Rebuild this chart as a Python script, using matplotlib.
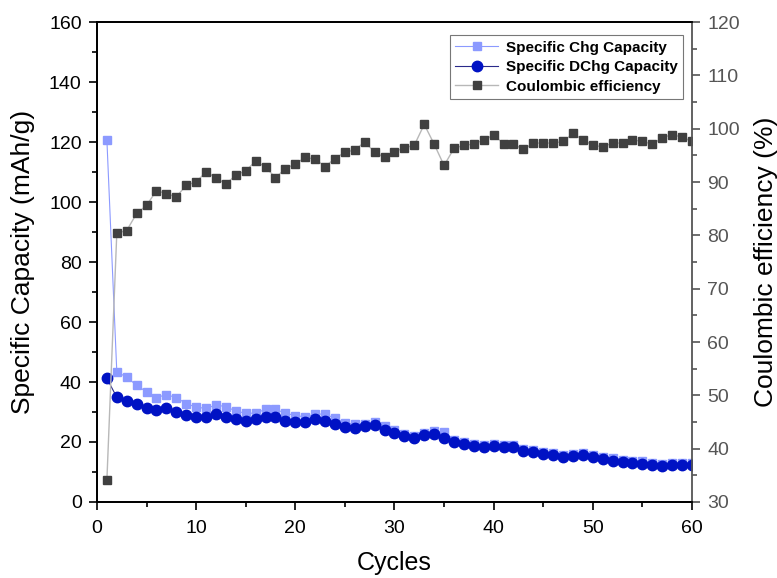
import matplotlib

matplotlib.use("Agg")
import matplotlib.pyplot as plt
import numpy as np

plt.rcParams["font.family"] = ["Liberation Sans", "DejaVu Sans"]

cycles = np.arange(1, 61)

chg_capacity = [
    120.7, 43.4, 41.6, 38.9, 36.7, 34.8, 35.8, 34.8, 32.8, 31.6,
    31.2, 32.3, 31.8, 30.3, 29.6, 29.6, 30.9, 30.9, 29.6, 28.8,
    28.4, 29.3, 29.3, 27.9, 26.4, 26.0, 26.0, 26.6, 25.3, 24.0,
    22.7, 22.1, 22.9, 23.8, 23.2, 20.7, 19.9, 19.4, 18.9, 19.4,
    19.1, 18.9, 17.8, 17.3, 16.8, 16.3, 15.8, 16.0, 16.3, 15.8,
    15.1, 14.5, 14.0, 13.8, 13.5, 13.0, 12.6, 12.9, 13.1, 12.9,
]
dchg_capacity = [
    41.2, 34.9, 33.7, 32.7, 31.2, 30.7, 31.4, 30.1, 29.0, 28.2,
    28.4, 29.2, 28.4, 27.6, 27.1, 27.8, 28.4, 28.2, 27.1, 26.7,
    26.7, 27.6, 27.1, 25.9, 25.1, 24.7, 25.3, 25.6, 24.0, 22.9,
    22.0, 21.4, 22.2, 22.7, 21.4, 20.0, 19.2, 18.7, 18.2, 18.7,
    18.4, 18.2, 17.1, 16.6, 16.1, 15.6, 15.1, 15.3, 15.6, 15.1,
    14.4, 13.8, 13.3, 13.1, 12.8, 12.3, 11.9, 12.2, 12.4, 12.2,
]
coulombic_eff = [
    34.1, 80.4, 80.9, 84.1, 85.6, 88.4, 87.8, 87.2, 89.4, 90.0,
    91.9, 90.8, 89.6, 91.3, 92.1, 93.9, 92.8, 90.8, 92.5, 93.4,
    94.6, 94.3, 92.9, 94.4, 95.6, 96.0, 97.5, 95.6, 94.6, 95.7,
    96.4, 96.9, 100.8, 97.1, 93.1, 96.3, 96.9, 97.1, 97.9, 98.8,
    97.2, 97.1, 96.1, 97.3, 97.3, 97.3, 97.6, 99.1, 97.9, 96.9,
    96.6, 97.3, 97.3, 97.9, 97.6, 97.1, 98.3, 98.9, 98.4, 97.6,
]

fig = plt.figure(figsize=(7.77, 5.78), dpi=100)
ax = fig.add_axes([0.1248, 0.1315, 0.7658, 0.8304])
ax2 = ax.twinx()

h1, = ax.plot(cycles, chg_capacity, color="#8c9aff", lw=0.8, marker="s", ms=6,
              mec="#8c9aff", label="Specific Chg Capacity", zorder=2)
h2, = ax.plot(cycles, dchg_capacity, color="#2a2a8a", lw=0.8, marker="o", ms=7.5,
              mfc="#0012c4", mec="#0012c4", label="Specific DChg Capacity", zorder=3)
h3, = ax2.plot(cycles, coulombic_eff, color="#b8b8b8", lw=1.0, marker="s", ms=6.3,
               mfc="#404040", mec="#404040", label="Coulombic efficiency")

ax.set_xlim(0, 60)
ax.set_ylim(0, 160)
ax2.set_ylim(30, 120)
ax.set_xticks(np.arange(0, 61, 10))
ax.set_xticks(np.arange(0, 61, 5), minor=True)
ax.set_yticks(np.arange(0, 161, 20))
ax.set_yticks(np.arange(0, 161, 10), minor=True)
ax2.set_yticks(np.arange(30, 121, 10))
ax2.set_yticks(np.arange(30, 121, 5), minor=True)

ax.tick_params(which="major", direction="out", length=6, width=1.2, labelsize=14, pad=5)
ax.tick_params(which="minor", direction="out", length=3.5, width=1.2)
ax.tick_params(axis="x", pad=7)
ax2.tick_params(which="major", direction="out", length=6, width=1.2, labelsize=14, pad=5,
                color="#555555", labelcolor="#555555")
ax2.tick_params(which="minor", direction="out", length=3.5, width=1.2, color="#555555")

for s in ["left", "bottom", "top"]:
    ax.spines[s].set_linewidth(1.3)
    ax2.spines[s].set_linewidth(1.3)
ax2.spines["right"].set_color("#555555")
ax2.spines["right"].set_linewidth(1.3)
ax.spines["right"].set_visible(False)

ax.set_xlabel("Cycles", fontsize=18, labelpad=10)
ax.set_ylabel("Specific Capacity (mAh/g)", fontsize=19, labelpad=10)
ax2.set_ylabel("Coulombic efficiency (%)", fontsize=19, labelpad=10)

leg = ax2.legend(handles=[h1, h2, h3], loc="upper right", bbox_to_anchor=(0.985, 0.972),
                 prop={"weight": "bold", "size": 11}, frameon=True, fancybox=False,
                 edgecolor="#555555", borderpad=0.35, labelspacing=0.35,
                 handlelength=2.8, handletextpad=0.5, borderaxespad=0)
leg.get_frame().set_linewidth(0.8)

fig.savefig("out.png", dpi=100)
